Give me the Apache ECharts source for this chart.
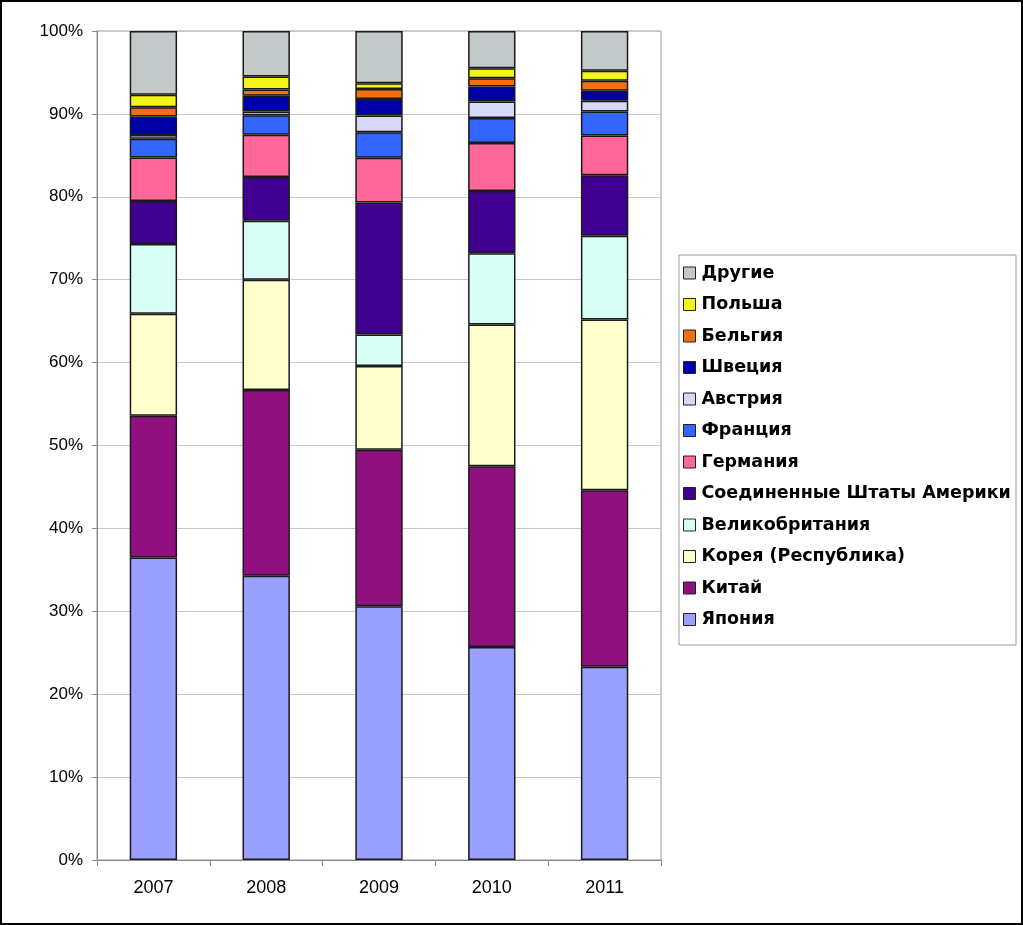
<!DOCTYPE html>
<html><head><meta charset="utf-8">
<script src="https://cdn.jsdelivr.net/npm/echarts@6/dist/echarts.min.js"></script>
<style>html,body{margin:0;padding:0;background:#fff}#c{width:1023px;height:925px}</style>
</head><body><div id="c"></div>
<script>
const years = ['2007','2008','2009','2010','2011'];
const seriesNames = ['Япония','Китай','Корея (Республика)','Великобритания','Соединенные Штаты Америки','Германия','Франция','Австрия','Швеция','Бельгия','Польша','Другие'];
const japan   = [36.5, 34.3, 30.6, 25.7, 23.3];
const china   = [17.1, 22.4, 18.9, 21.8, 21.3];
const korea   = [12.3, 13.3, 10.1, 17.1, 20.6];
const uk      = [8.4, 7.1, 3.8, 8.6, 10.1];
const usa     = [5.2, 5.3, 15.9, 7.5, 7.3];
const germany = [5.25, 5.1, 5.4, 5.8, 4.8];
const france  = [2.25, 2.35, 3.1, 3.0, 2.9];
const austria = [0.45, 0.45, 2.0, 2.0, 1.3];
const sweden  = [2.25, 1.9, 2.0, 1.8, 1.2];
const belgium = [1.1, 0.75, 1.2, 1.0, 1.2];
const poland  = [1.5, 1.55, 0.7, 1.2, 1.2];
const others  = [7.7, 5.5, 6.3, 4.5, 4.8];
const yTicks = [0,10,20,30,40,50,60,70,80,90,100];

const values = [japan, china, korea, uk, usa, germany, france, austria, sweden, belgium, poland, others];
const colors = ['#99A0FF','#901080','#FFFFCC','#D8FFF5','#400090','#FF6699','#3366FF','#D8D8F8','#0000A8','#F07010','#F4F41A','#C2C9C8'];

const chart = echarts.init(document.getElementById('c'));
chart.setOption({
  animation: false,
  backgroundColor: '#fff',
  textStyle: {fontFamily: '"Liberation Sans", Arial, sans-serif'},
  grid: {left: 97, right: 362, top: 31, bottom: 65, show: true, borderColor: '#999', borderWidth: 1},
  graphic: [
    {type: 'rect', shape: {x: 1, y: 1, width: 1021, height: 923}, style: {fill: 'none', stroke: '#000', lineWidth: 2}, z: 100},
    {type: 'rect', shape: {x: 679, y: 255, width: 337, height: 390}, style: {fill: 'none', stroke: '#999', lineWidth: 1}, z: 1}
  ],
  legend: {
    orient: 'vertical', left: 678, top: 259,
    data: seriesNames.slice().reverse(),
    itemWidth: 12, itemHeight: 12, itemGap: 13.5,
    icon: 'rect',
    itemStyle: {borderColor: '#222', borderWidth: 1},
    textStyle: {fontSize: 17.5, fontWeight: 'bold', color: '#000', fontFamily: '"DejaVu Sans", sans-serif', padding: [0,0,0,1]}
  },
  xAxis: {
    type: 'category', data: years,
    axisLine: {lineStyle: {color: '#888'}},
    axisTick: {show: true, length: 6, lineStyle: {color: '#888'}},
    axisLabel: {fontSize: 18, color: '#000', margin: 19, fontFamily: '"Liberation Sans", Arial, sans-serif'}
  },
  yAxis: {
    type: 'value', min: 0, max: 100, interval: 10,
    axisLine: {show: true, lineStyle: {color: '#888'}},
    axisTick: {show: true, length: 5, lineStyle: {color: '#888'}},
    axisLabel: {fontSize: 17, color: '#000', margin: 14, fontFamily: '"Liberation Sans", Arial, sans-serif', formatter: v => yTicks.includes(v) ? v + '%' : ''},
    splitLine: {lineStyle: {color: '#c8c8c8'}}
  },
  series: seriesNames.map((n, i) => ({
    name: n, type: 'bar', stack: 'all', data: values[i],
    barWidth: '42%',
    itemStyle: {color: colors[i], borderColor: '#1a1a1a', borderWidth: 1.5}
  }))
});
</script></body></html>
